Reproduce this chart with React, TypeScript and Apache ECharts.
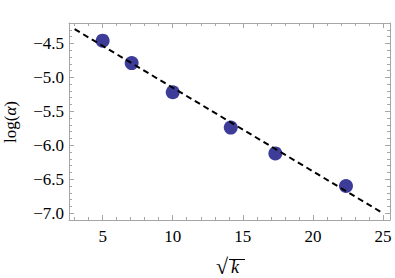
import React, { useEffect, useRef } from "react";
import * as echarts from "echarts";

const sqrtK = [5, 7.07, 10, 14.14, 17.32, 22.36];
const logAlpha = [-4.46, -4.79, -5.22, -5.74, -6.12, -6.6];
const fitX = [3, 25];
const fitY = [-4.29, -7.0];

const xMajor = [5, 10, 15, 20, 25];
const xMinor = [3, 4, 6, 7, 8, 9, 11, 12, 13, 14, 16, 17, 18, 19, 21, 22, 23, 24];
const yMajor = [-7, -6.5, -6, -5.5, -5, -4.5];
const yMinor = [
  -6.9, -6.8, -6.7, -6.6, -6.4, -6.3, -6.2, -6.1, -5.9, -5.8, -5.7, -5.6,
  -5.4, -5.3, -5.2, -5.1, -4.9, -4.8, -4.7, -4.6, -4.4, -4.3,
];

const X_MIN = 2.6;
const X_MAX = 25.5;
const Y_MIN = -7.1;
const Y_MAX = -4.2;

const FRAME = "#a6a6a6";
const FONT = "Liberation Serif";

function fmtY(v: number) {
  return (v < 0 ? "\u2212" : "") + Math.abs(v).toFixed(1);
}

function xAxisDef(position: "top" | "bottom", ticks: number[], len: number, labels: boolean, line: boolean) {
  return {
    type: "value",
    position,
    min: X_MIN,
    max: X_MAX,
    axisLine: { show: line, onZero: false, lineStyle: { color: FRAME, width: 1 } },
    axisTick: { show: true, inside: true, length: len, customValues: ticks, lineStyle: { color: FRAME, width: 1 } },
    axisLabel: labels
      ? { show: true, customValues: xMajor, color: "#000", fontFamily: FONT, fontSize: 17, margin: 8 }
      : { show: false },
    splitLine: { show: false },
  };
}

function yAxisDef(position: "left" | "right", ticks: number[], len: number, labels: boolean, line: boolean) {
  return {
    type: "value",
    position,
    min: Y_MIN,
    max: Y_MAX,
    axisLine: { show: line, onZero: false, lineStyle: { color: FRAME, width: 1 } },
    axisTick: { show: true, inside: true, length: len, customValues: ticks, lineStyle: { color: FRAME, width: 1 } },
    axisLabel: labels
      ? { show: true, customValues: yMajor, color: "#000", fontFamily: FONT, fontSize: 17, margin: 5, formatter: (v: number) => fmtY(v) }
      : { show: false },
    splitLine: { show: false },
  };
}

export default function App() {
  const ref = useRef<HTMLDivElement>(null);
  useEffect(() => {
    if (!ref.current) return;
    const chart = echarts.init(ref.current, null, { renderer: "svg" });
    chart.setOption({
      animation: false,
      backgroundColor: "#fff",
      textStyle: { fontFamily: FONT },
      grid: { left: 69, right: 5, top: 23, bottom: 58 },
      xAxis: [
        xAxisDef("bottom", xMajor, 5, true, true),
        xAxisDef("bottom", xMinor, 3, false, false),
        xAxisDef("top", xMajor, 5, false, true),
        xAxisDef("top", xMinor, 3, false, false),
      ],
      yAxis: [
        yAxisDef("left", yMajor, 5, true, true),
        yAxisDef("left", yMinor, 3, false, false),
        yAxisDef("right", yMajor, 5, false, true),
        yAxisDef("right", yMinor, 3, false, false),
      ],
      series: [
        {
          type: "line",
          xAxisIndex: 0,
          yAxisIndex: 0,
          data: fitX.map((x, i) => [x, fitY[i]]),
          showSymbol: false,
          symbol: "none",
          lineStyle: { color: "#000", width: 2, type: [6, 4] },
          z: 3,
        },
        {
          type: "scatter",
          xAxisIndex: 0,
          yAxisIndex: 0,
          data: sqrtK.map((x, i) => [x, logAlpha[i]]),
          symbolSize: 14,
          itemStyle: { color: "#3d3d99", opacity: 1 },
          z: 2,
        },
      ],
      graphic: [
        {
          type: "text",
          x: 10,
          y: 122,
          rotation: Math.PI / 2,
          style: {
            text: "{n|log(}{a|\u03b1}{n|)}",
            align: "center",
            verticalAlign: "middle",
            rich: {
              n: { fontFamily: FONT, fontSize: 17, fill: "#000" },
              a: { fontFamily: FONT, fontSize: 17, fontStyle: "italic", fill: "#000" },
            },
          },
        },
        {
          type: "text",
          x: 216,
          y: 255,
          style: { text: "\u221a", fontFamily: FONT, fontSize: 22, fill: "#000" },
        },
        {
          type: "text",
          x: 231,
          y: 258,
          style: { text: "k", fontFamily: FONT, fontSize: 18, fontStyle: "italic", fill: "#000" },
        },
        {
          type: "line",
          shape: { x1: 229, y1: 259.5, x2: 245, y2: 259.5 },
          style: { stroke: "#000", lineWidth: 1 },
        },
      ],
    });
    return () => chart.dispose();
  }, []);
  return <div ref={ref} style={{ width: 395, height: 278, position: "absolute", left: 0, top: 0 }} />;
}
